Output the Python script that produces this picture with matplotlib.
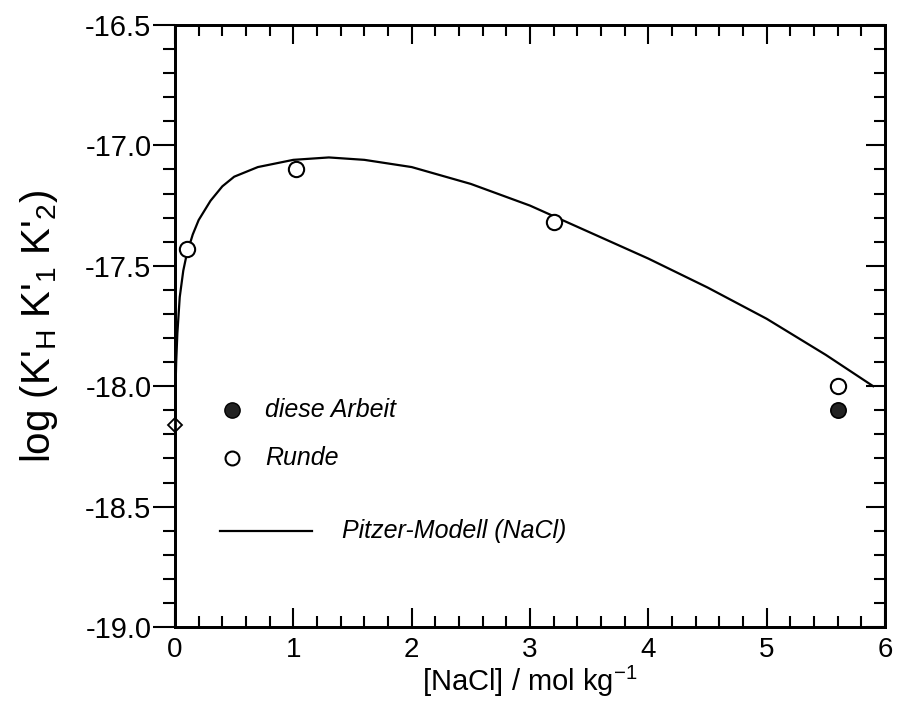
import matplotlib
matplotlib.use("Agg")
import matplotlib.pyplot as plt
from matplotlib.ticker import MultipleLocator, FormatStrFormatter

# Runde (open circles)
runde_x = [0.1, 1.02, 3.2, 5.6]
runde_y = [-17.43, -17.10, -17.32, -18.00]
# diese Arbeit (filled)
arbeit_x = [5.6]
arbeit_y = [-18.10]
# value at zero ionic strength (diamond)
zero_x = [0.0]
zero_y = [-18.16]
# Pitzer model curve
pitzer_x = [0.0, 0.005, 0.01, 0.02, 0.04, 0.07, 0.1, 0.15, 0.2, 0.3, 0.4, 0.5, 0.7,
            1.0, 1.3, 1.6, 2.0, 2.5, 3.0, 3.5, 4.0, 4.5, 5.0, 5.5, 5.9]
pitzer_y = [-18.16, -18.0, -17.9, -17.78, -17.63, -17.52, -17.45, -17.37, -17.31,
            -17.23, -17.17, -17.13, -17.09, -17.06, -17.05, -17.06, -17.09, -17.16,
            -17.25, -17.36, -17.47, -17.59, -17.72, -17.87, -18.0]

plt.rcParams['font.family'] = ['Liberation Sans', 'DejaVu Sans']
plt.rcParams['mathtext.fontset'] = 'custom'
plt.rcParams['mathtext.rm'] = 'Liberation Sans'
plt.rcParams['mathtext.it'] = 'Liberation Sans:italic'

fig = plt.figure(figsize=(8.97, 7.01), dpi=100)
ax = fig.add_axes([175 / 897, 1 - 627 / 701, 710 / 897, 602 / 701])

ax.plot(pitzer_x, pitzer_y, color='black', lw=1.6, zorder=2)
ax.plot(runde_x, runde_y, 'o', ms=11, mfc='white', mec='black', mew=1.5, zorder=3)
ax.plot(arbeit_x, arbeit_y, 'o', ms=11, mfc='#222222', mec='black', mew=1.2, zorder=3)
ax.plot(zero_x, zero_y, 'D', ms=7, mfc='white', mec='black', mew=1.3, zorder=4, clip_on=False)

ax.set_xlim(0, 6)
ax.set_ylim(-19.0, -16.5)
ax.xaxis.set_major_locator(MultipleLocator(1))
ax.xaxis.set_minor_locator(MultipleLocator(0.2))
ax.yaxis.set_major_locator(MultipleLocator(0.5))
ax.yaxis.set_minor_locator(MultipleLocator(0.1))
ax.yaxis.set_major_formatter(FormatStrFormatter('%.1f'))

for s in ax.spines.values():
    s.set_linewidth(2)
ax.tick_params(axis='x', which='both', direction='in', top=True, bottom=True,
               labelsize=20, pad=7, width=1.5)
ax.tick_params(axis='y', which='both', direction='out', left=True, labelsize=21,
               pad=1, width=1.5)
ax.tick_params(axis='x', which='major', length=14)
ax.tick_params(axis='x', which='minor', length=8)
ax.tick_params(axis='y', which='major', length=16)
ax.tick_params(axis='y', which='minor', length=9)
# right side ticks point inward
ax2 = ax.twinx()
ax2.set_ylim(ax.get_ylim())
ax2.yaxis.set_major_locator(MultipleLocator(0.5))
ax2.yaxis.set_minor_locator(MultipleLocator(0.1))
ax2.tick_params(axis='y', which='both', direction='in', labelright=False, width=1.5)
ax2.tick_params(axis='y', which='major', length=14)
ax2.tick_params(axis='y', which='minor', length=8)
for s in ax2.spines.values():
    s.set_linewidth(2)

ax.set_xlabel("[NaCl] / mol kg$^{-1}$", fontsize=21, labelpad=1)
ax.set_ylabel("log (K'$_\\mathrm{H}$ K'$_\\mathrm{1}$ K'$_\\mathrm{2}$)", fontsize=29, labelpad=18)

# legend drawn by hand
ax.plot([0.48], [-18.10], 'o', ms=11, mfc='#222222', mec='black')
ax.text(0.76, -18.10, "diese Arbeit", fontsize=18, style='italic', va='center')
ax.plot([0.48], [-18.30], 'o', ms=10, mfc='white', mec='black', mew=1.5)
ax.text(0.76, -18.30, "Runde", fontsize=18, style='italic', va='center')
ax.plot([0.38, 1.16], [-18.60, -18.60], color='black', lw=1.6)
ax.text(1.41, -18.60, "Pitzer-Modell (NaCl)", fontsize=18, style='italic', va='center')

fig.savefig("out.png", dpi=100)
